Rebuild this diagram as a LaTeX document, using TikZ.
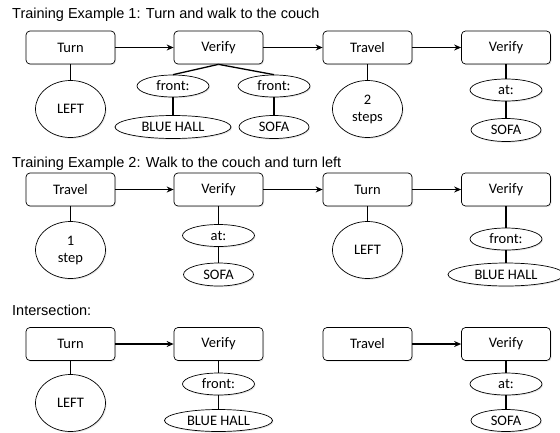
\documentclass[tikz,border=0pt]{standalone}
\usepackage{fontspec}
\setmainfont{Liberation Sans}
\newfontfamily\boxfont{Carlito}
\usetikzlibrary{arrows.meta,shapes.geometric,shadows}

\begin{document}
\begin{tikzpicture}[x=1pt, y=-1pt, every node/.style={font=\boxfont\fontsize{14.5}{17}\selectfont}, box/.style={rounded corners=4pt, draw, line width=0.7pt, fill=white, minimum width=89pt, minimum height=33pt, inner sep=0pt, drop shadow={opacity=0.2, shadow xshift=1pt, shadow yshift=-1.2pt}}, oval/.style={ellipse, draw, line width=0.7pt, fill=white, inner sep=0pt, align=center, drop shadow={opacity=0.2, shadow xshift=1pt, shadow yshift=-1.2pt}}, big/.style={oval, minimum width=70pt, minimum height=57pt}, tag/.style={oval, minimum width=72pt, minimum height=22pt}, wide/.style={oval, minimum width=116pt, minimum height=23pt}, val/.style={oval, minimum width=70pt, minimum height=23pt}, title/.style={anchor=base west, inner sep=0pt, font=\rmfamily\fontsize{14.5}{17}\selectfont}, arrow/.style={-{Stealth[length=7pt, width=6pt]}, line width=1.4pt}, link/.style={line width=1.3pt}]
\useasboundingbox (0,0) rectangle (560,432);
% first example
\node[title] (t1) at (12,18) {Training Example 1: Turn and walk to the couch};
\node[box] (a1) at (70.5,47.5) {Turn};
\node[box] (a2) at (218.5,47.5) {Verify};
\node[box] (a3) at (367.5,47.5) {Travel};
\node[box] (a4) at (506,47.5) {Verify};
\node[big] (a1l) at (70.5,109) {LEFT};
\node[tag] (a2f) at (173,86) {front:};
\node[tag] (a2g) at (274,86) {front:};
\node[wide] (a2b) at (173,127) {BLUE HALL};
\node[val] (a2s) at (274,127) {SOFA};
\node[big] (a3n) at (367.5,109) {2\\steps};
\node[tag] (a4t) at (506,90) {at:};
\node[val] (a4s) at (506,130) {SOFA};
\draw[arrow] (a1)--(a2); \draw[arrow] (a2)--(a3); \draw[arrow] (a3)--(a4);
\draw[link] (a1)--(a1l); \draw[link] (a2.south)--(a2f.north); \draw[link] (a2.south)--(a2g.north); \draw[link] (a2f)--(a2b); \draw[link] (a2g)--(a2s); \draw[link] (a3)--(a3n); \draw[link] (a4)--(a4t); \draw[link] (a4t)--(a4s);
% second example
\node[title] (t2) at (12,167) {Training Example 2: Walk to the couch and turn left};
\node[box] (b1) at (70.5,189.5) {Travel};
\node[box] (b2) at (218.5,189.5) {Verify};
\node[box] (b3) at (367.5,189.5) {Turn};
\node[box] (b4) at (506,189.5) {Verify};
\node[big] (b1n) at (70.5,250) {1\\step};
\node[tag] (b2t) at (218.5,235.5) {at:};
\node[val] (b2s) at (218.5,274.5) {SOFA};
\node[big] (b3l) at (367.5,250) {LEFT};
\node[tag] (b4f) at (506,239) {front:};
\node[wide] (b4b) at (506,274.5) {BLUE HALL};
\draw[arrow] (b1)--(b2); \draw[arrow] (b2)--(b3); \draw[arrow] (b3)--(b4);
\draw[link] (b1)--(b1n); \draw[link] (b2)--(b2t); \draw[link] (b2t)--(b2s); \draw[link] (b3)--(b3l); \draw[link] (b4)--(b4f); \draw[link] (b4f)--(b4b);
% intersection
\node[title] (t3) at (12,315) {Intersection:};
\node[box] (c1) at (70.5,344) {Turn};
\node[box] (c2) at (218.5,344) {Verify};
\node[box] (c3) at (367.5,344) {Travel};
\node[box] (c4) at (506,344) {Verify};
\node[big] (c1l) at (70.5,403) {LEFT};
\node[tag] (c2f) at (218.5,384) {front:};
\node[wide, minimum width=108pt, minimum height=22pt] (c2b) at (218.5,420.5) {BLUE HALL};
\node[tag] (c4t) at (506,384) {at:};
\node[val, minimum height=22pt] (c4s) at (506,420.5) {SOFA};
\draw[arrow] (c1)--(c2); \draw[arrow] (c3)--(c4);
\draw[link] (c1)--(c1l); \draw[link] (c2)--(c2f); \draw[link] (c2f)--(c2b); \draw[link] (c4)--(c4t); \draw[link] (c4t)--(c4s);
\end{tikzpicture}
\end{document}
